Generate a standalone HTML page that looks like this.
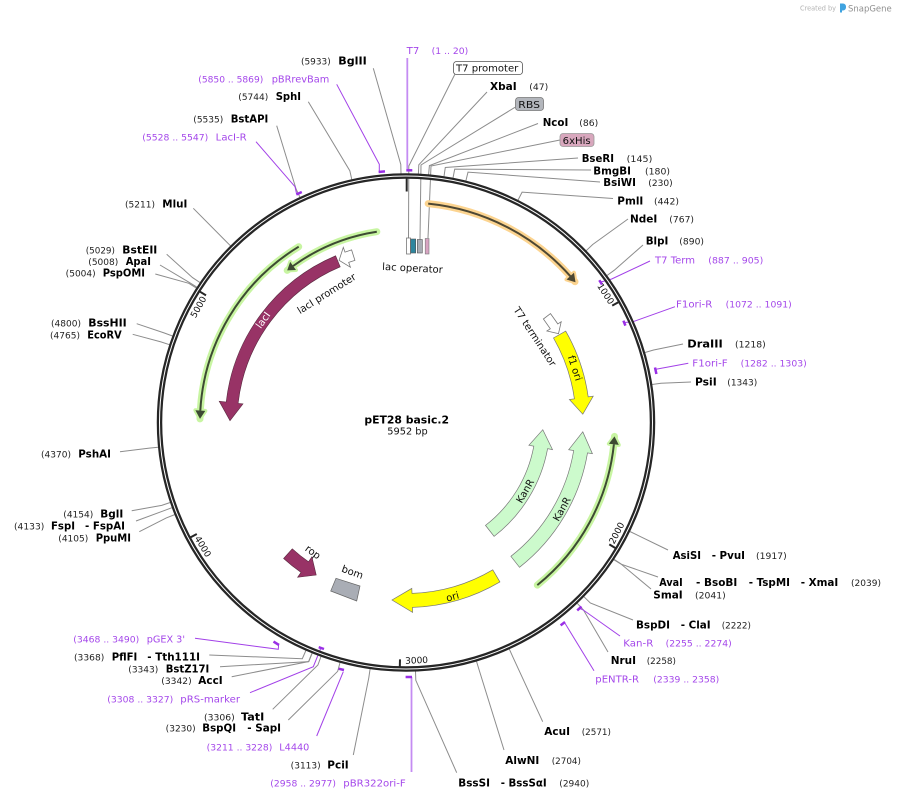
<!DOCTYPE html>
<html><head><meta charset="utf-8">
<style>
html,body{margin:0;padding:0;background:#fff;}
svg{display:block;}
text{font-family:"DejaVu Sans","Liberation Sans",sans-serif;}
.e{font-weight:bold;font-size:11px;fill:#000;}
.n{font-size:9px;fill:#222;}
.p{font-size:10px;fill:#a447ea;}
.pn{font-size:9px;fill:#a447ea;}
.f{font-size:10px;fill:#111;}
.t{font-size:9px;fill:#111;}
.g{fill:none;stroke:#8c8c8c;stroke-width:1;}
.pl{fill:none;stroke:#a240e8;stroke-width:1;}
.pm{stroke:#9a2fe6;stroke-width:2.5;fill:none;}
</style></head><body>
<svg width="897" height="799" viewBox="0 0 897 799" xmlns="http://www.w3.org/2000/svg">
<rect width="897" height="799" fill="#fff"/>

<!-- watermark -->
<text x="800" y="10.5" font-size="7" fill="#b3b3b3" textLength="36" lengthAdjust="spacingAndGlyphs">Created by</text>
<path d="M840,3.5 h3 a3,3 0 0 1 3,3 v1 a3,3 0 0 1 -3,3 h-1 v2 h-2 z" fill="#3fa3e0"/>
<text x="848" y="11.5" font-size="9" fill="#8f8f8f" textLength="43.7" lengthAdjust="spacingAndGlyphs">SnapGene</text>

<!-- leader lines enzymes -->
<g class="g">
<polyline points="487,92 418.8,164.8 418.4,173.8"/>
<polyline points="538,123.5 429.4,165.6 428.6,174.5"/>
<polyline points="578,158 445.3,167.5 444,176.4"/>
<polyline points="591,170 454.7,169.1 453,178"/>
<polyline points="600,182 468,172.1 465.9,180.8"/>
<polyline points="613,198.5 522.1,192.1 518,200.1"/>
<polyline points="628,219 592.7,244.5 586.2,250.7"/>
<polyline points="643,245 614.3,270.2 607,275.5"/>
<polyline points="683,344 653.6,350 645,352.5"/>
<polyline points="691,382 661,383.2 652.1,384.5"/>
<polyline points="668,550 638,535.4 629.9,531.5"/>
<polyline points="658,577 621.6,564.3 614,559.3"/>
<polyline points="651,589 621.6,564.5 613.8,559.7"/>
<polyline points="633,620 590.3,603 583.9,596.7"/>
<polyline points="608,652 583.4,609.9 577.2,603.3"/>
<polyline points="542.7,721.7 513,657.3 509.3,649.1"/>
<polyline points="504,750 479.1,669.9 476.5,661.3"/>
<polyline points="456.7,772.7 415.8,680.3 415.5,671.3"/>
<polyline points="353.3,755 368.8,677.8 370.1,668.9"/>
<polyline points="288.3,720 337.7,671.3 340,662.6"/>
<polyline points="272.7,709.3 317.9,665 321,656.5"/>
<polyline points="231.7,676.7 308.8,661.5 312.2,653.1"/>
<polyline points="220,666.7 308.6,661.6 312,653.2"/>
<polyline points="209.3,655 302.3,658.7 305.9,650.5"/>
<polyline points="139.3,531.7 166.3,517.9 174.7,514.6"/>
<polyline points="136,521 163.6,510.8 172,507.7"/>
<polyline points="131.7,510.7 161.7,505.4 170.2,502.5"/>
<polyline points="120,451.7 149.3,448.1 158.2,447.2"/>
<polyline points="132.7,334.3 160.9,341.9 169.5,344.7"/>
<polyline points="136.7,323.7 164,332.9 172.5,336"/>
<polyline points="155.3,274 188.8,283.3 196.4,288.1"/>
<polyline points="160,265 189.3,282.4 196.9,287.2"/>
<polyline points="166.7,254.3 192.5,277.6 200,282.6"/>
<polyline points="193.3,208.3 224.2,239.5 230.5,245.8"/>
<polyline points="276.7,125.7 296.1,189.1 299.9,197.2"/>
<polyline points="308.3,101.7 349.8,170.7 351.8,179.5"/>
<polyline points="373.3,68.3 400.8,164.5 401,173.5"/>
<!-- feature leader lines into inner boxes -->
<polyline points="455,74 408.8,166 408.5,238"/>
<polyline points="515,107.3 421,165 420,239.5"/>
<polyline points="560,140 431,166 428,238"/>
</g>

<!-- primer leader lines -->
<g class="pl">
<polyline points="336.7,84.3 379.3,164.3 379.3,171"/>
<polyline points="256,141.7 295,186.7 296.5,193.5"/>
<polyline points="650,261 611.7,279 601,282"/>
<polyline points="675,306.7 633,321.7 624.5,322.5"/>
<polyline points="688.3,363.3 656,369.3"/>
<polyline points="620,636 583.3,610 580,608.5"/>
<polyline points="594,670.7 565,623.3"/>
<polyline points="195,638.3 278.3,649.3 278.6,644.7"/>
<polyline points="250,692.7 313.3,666.7 320.5,649"/>
<polyline points="316.7,736 343.3,671.7"/>
</g>
<line x1="407.3" y1="58" x2="407.3" y2="169" stroke="#c48cf2" stroke-width="1.8"/>
<line x1="411.5" y1="677" x2="411.5" y2="772" stroke="#c48cf2" stroke-width="1.8"/>

<!-- ring -->
<circle cx="406" cy="422.5" r="246.5" fill="none" stroke="#262626" stroke-width="5.5"/>
<circle cx="406" cy="422.5" r="246.5" fill="none" stroke="#fff" stroke-width="1"/>

<!-- primer markers -->
<g class="pm">
<line x1="406.3" y1="170.3" x2="412.3" y2="170.3"/>
<line x1="378.6" y1="172" x2="385" y2="171.4"/>
<line x1="296.3" y1="194.5" x2="301.8" y2="192"/>
<line x1="599.3" y1="280.2" x2="602" y2="284.5"/>
<line x1="623.4" y1="320.7" x2="625.4" y2="325.6"/>
<line x1="655" y1="367.5" x2="656.4" y2="374"/>
<line x1="581.5" y1="606.6" x2="577.2" y2="610.4"/>
<line x1="565" y1="622" x2="560.6" y2="625.4"/>
<line x1="279" y1="645" x2="273.5" y2="641.6"/>
<line x1="324" y1="649" x2="318.7" y2="647.2"/>
<line x1="344" y1="670" x2="338.6" y2="668.7"/>
<line x1="405.6" y1="677" x2="412" y2="677"/>
</g>

<!-- ticks -->
<g stroke="#262626" stroke-width="2">
<line x1="406.7" y1="178" x2="406.7" y2="191.5"/>
<line x1="618.3" y1="302.2" x2="612.2" y2="305.6"/>
<line x1="615.3" y1="548" x2="609.3" y2="544.4"/>
<line x1="399.8" y1="667" x2="400" y2="659.4"/>
<line x1="190.7" y1="537.3" x2="196.8" y2="534"/>
<line x1="200" y1="291.7" x2="206" y2="295.4"/>
</g>
<text class="t" text-anchor="middle" transform="translate(603.1,295.5) rotate(57.2)">1000</text>
<text class="t" text-anchor="middle" transform="translate(619.4,534.5) rotate(-62.3)">2000</text>
<text class="t" text-anchor="middle" transform="translate(416.7,663.4) rotate(-2.5)">3000</text>
<text class="t" text-anchor="middle" transform="translate(200.3,548.1) rotate(58.6)">4000</text>
<text class="t" text-anchor="middle" transform="translate(201.1,308.5) rotate(-60.9)">5000</text>

<!-- orange feature -->
<path d="M428.2,203.6 A220,220 0 0 1 575,281.7" fill="none" stroke="#fcd490" stroke-width="7" stroke-linecap="round"/>
<polygon points="566.5,279.5 574,272.8 575.5,282.3" fill="#fcd490" stroke="#fcd490" stroke-width="4" stroke-linejoin="round"/>
<path d="M428.2,203.6 A220,220 0 0 1 570.8,276.7" fill="none" stroke="#4d4733" stroke-width="2"/>
<polygon points="566.5,279.5 574,272.8 575.5,282.3" fill="#4d4733"/>

<!-- green features -->
<g fill="#c8f5a2" stroke="#c8f5a2">
<path d="M298.7,246.7 A206,206 0 0 0 200,418.9" fill="none" stroke-width="7" stroke-linecap="round"/>
<polygon points="205.3,410.9 195.4,410.3 200,418.9" stroke-width="4" stroke-linejoin="round"/>
<path d="M376.8,231.7 A193,193 0 0 0 287.2,270.4" fill="none" stroke-width="7" stroke-linecap="round"/>
<polygon points="296,270 290.2,261.9 287.2,270.4" stroke-width="4" stroke-linejoin="round"/>
<path d="M537.3,585.1 A209,209 0 0 0 614.5,436.4" fill="none" stroke-width="7" stroke-linecap="round"/>
<polygon points="608.9,443.8 618.8,444.9 614.5,436.4" stroke-width="4" stroke-linejoin="round"/>
</g>
<g fill="#3d4a33" stroke="#3d4a33">
<path d="M298.7,246.7 A206,206 0 0 0 200.3,410.6" fill="none" stroke-width="2"/>
<polygon points="205.3,410.9 195.4,410.3 200,418.9" stroke="none"/>
<path d="M376.8,231.7 A193,193 0 0 0 293.1,266" fill="none" stroke-width="2"/>
<polygon points="296,270 290.2,261.9 287.2,270.4" stroke="none"/>
<path d="M537.3,585.1 A209,209 0 0 0 613.9,444.3" fill="none" stroke-width="2"/>
<polygon points="608.9,443.8 618.8,444.9 614.5,436.4" stroke="none"/>
</g>

<!-- lacI -->
<path d="M335.6,255.8 A181,181 0 0 0 226.2,402 L219.2,401.2 L230,420.7 L243,403.9 L238.1,403.4 A169,169 0 0 1 340.2,266.8 Z" fill="#983366" stroke="#5a2a40" stroke-width="0.6"/>
<text class="f" fill="#fff" style="fill:#fff" text-anchor="middle" transform="translate(263,320) rotate(-54.4)" dy="3.5">lacI</text>
<!-- lacI promoter -->
<path d="M351.6,249.9 L345,252.1 L343.3,247.4 L339.1,260.3 L350.4,267.2 L348.7,262.4 L354.9,260.4 Z" fill="#fff" stroke="#777" stroke-width="0.8"/>
<text class="f" text-anchor="middle" transform="translate(326.5,293.5) rotate(-32)" dy="3.5">lacI promoter</text>

<!-- lac operator boxes -->
<rect x="406.5" y="238" width="4" height="16" fill="#fff" stroke="#777" stroke-width="0.8"/>
<rect x="410.7" y="239" width="5" height="14" fill="#2e869e" stroke="#555" stroke-width="0.6"/>
<rect x="417.3" y="239.5" width="5" height="13.5" fill="#a8acb4" stroke="#555" stroke-width="0.6"/>
<rect x="425.2" y="238.5" width="3.8" height="15.5" fill="#d8a4c2" stroke="#777" stroke-width="0.6"/>
<text class="f" text-anchor="middle" transform="translate(412.5,268) rotate(3)" dy="3.5">lac operator</text>

<!-- T7 terminator -->
<path d="M550.5,313.6 L557.8,323.9 L561.2,321.7 L558.5,333.7 L546.9,331 L550.3,328.8 L543.4,319 Z" fill="#fff" stroke="#777" stroke-width="0.8"/>
<text class="f" text-anchor="middle" transform="translate(535,336.5) rotate(56.6)" dy="3.5">T7 terminator</text>

<!-- f1 ori -->
<path d="M565.7,331.1 A184,184 0 0 1 588.2,396.9 L593.2,396.2 L582.8,414.2 L569.4,399.5 L574.4,398.8 A170,170 0 0 0 553.5,338 Z" fill="#ffff00" stroke="#777" stroke-width="0.7"/>
<text class="f" text-anchor="middle" transform="translate(575,368) rotate(72)" dy="3.5">f1 ori</text>

<!-- KanR inner -->
<path d="M494.1,536.4 A144,144 0 0 0 547.6,448.7 L552.5,449.6 L542.8,429.7 L528.9,445.3 L533.8,446.2 A130,130 0 0 1 485.5,525.4 Z" fill="#ccfacc" stroke="#777" stroke-width="0.7"/>
<text class="f" text-anchor="middle" transform="translate(525,491) rotate(-60)" dy="3.5">KanR</text>
<!-- KanR outer -->
<path d="M519.5,567.3 A184,184 0 0 0 587.5,452.9 L592.4,453.7 L582.8,431.8 L568.7,449.7 L573.7,450.5 A170,170 0 0 1 510.9,556.3 Z" fill="#ccfacc" stroke="#777" stroke-width="0.7"/>
<text class="f" text-anchor="middle" transform="translate(561.7,509) rotate(-61)" dy="3.5">KanR</text>

<!-- ori -->
<path d="M499.9,581.9 A185,185 0 0 1 412.5,607.4 L412.6,612.4 L392,600 L411.8,588.4 L412,593.4 A171,171 0 0 0 492.8,569.8 Z" fill="#ffff00" stroke="#777" stroke-width="0.7"/>
<text class="f" text-anchor="middle" transform="translate(452.5,596.5) rotate(-15)" dy="3.5">ori</text>

<!-- rop -->
<path d="M283.6,558.5 A183,183 0 0 0 301,572.4 L297.6,577.3 L316.2,575 L311.9,556.8 L308.5,561.8 A170,170 0 0 1 292.3,548.8 Z" fill="#983366" stroke="#5a2a40" stroke-width="0.6"/>
<text class="f" text-anchor="middle" transform="translate(313,552) rotate(36)" dy="3.5">rop</text>

<!-- bom -->
<polygon points="336,578.3 360,586 356.7,601 330.7,591" fill="#a9adb5" stroke="#666" stroke-width="0.7"/>
<text class="f" text-anchor="middle" transform="translate(352.5,572) rotate(19.7)" dy="3.5">bom</text>

<!-- center title -->
<text x="406.7" y="423.3" text-anchor="middle" font-weight="bold" font-size="10.5" textLength="84.7" lengthAdjust="spacingAndGlyphs">pET28 basic.2</text>
<text x="407.5" y="434.5" text-anchor="middle" font-size="10" fill="#111" textLength="40.4" lengthAdjust="spacingAndGlyphs">5952 bp</text>

<!-- boxed feature labels -->
<rect x="453.5" y="61.5" width="69" height="13" rx="3" fill="#fff" stroke="#555" stroke-width="0.8"/>
<text class="f" x="456" y="71.5" textLength="62.3" lengthAdjust="spacingAndGlyphs">T7 promoter</text>
<rect x="515.5" y="97.5" width="28" height="13" rx="3" fill="#b3b6bc" stroke="#777" stroke-width="0.8"/>
<text class="f" x="518.3" y="108" textLength="21.7" lengthAdjust="spacingAndGlyphs">RBS</text>
<rect x="560" y="133.5" width="34" height="13" rx="3" fill="#d8a7bd" stroke="#999" stroke-width="0.8"/>
<text class="f" x="562.7" y="144" textLength="28" lengthAdjust="spacingAndGlyphs">6xHis</text>

<!-- right side labels -->
<text class="p" x="406.7" y="54" textLength="12.6" lengthAdjust="spacingAndGlyphs">T7</text>
<text class="pn" x="431.7" y="54" textLength="36.6" lengthAdjust="spacingAndGlyphs">(1 .. 20)</text>
<text class="e" x="490" y="90" textLength="26.7" lengthAdjust="spacingAndGlyphs">XbaI</text>
<text class="n" x="529.3" y="90" textLength="19" lengthAdjust="spacingAndGlyphs">(47)</text>
<text class="e" x="542.7" y="126" textLength="25.6" lengthAdjust="spacingAndGlyphs">NcoI</text>
<text class="n" x="579.3" y="126" textLength="19" lengthAdjust="spacingAndGlyphs">(86)</text>
<text class="e" x="581.7" y="162" textLength="32.3" lengthAdjust="spacingAndGlyphs">BseRI</text>
<text class="n" x="626.7" y="162" textLength="25.6" lengthAdjust="spacingAndGlyphs">(145)</text>
<text class="e" x="593.3" y="174.3" textLength="37.7" lengthAdjust="spacingAndGlyphs">BmgBI</text>
<text class="n" x="645" y="174.3" textLength="25" lengthAdjust="spacingAndGlyphs">(180)</text>
<text class="e" x="603.3" y="186" textLength="32.7" lengthAdjust="spacingAndGlyphs">BsiWI</text>
<text class="n" x="648.3" y="186" textLength="24.4" lengthAdjust="spacingAndGlyphs">(230)</text>
<text class="e" x="617.3" y="204.3" textLength="26" lengthAdjust="spacingAndGlyphs">PmlI</text>
<text class="n" x="654" y="204.3" textLength="25" lengthAdjust="spacingAndGlyphs">(442)</text>
<text class="e" x="630" y="222.3" textLength="27.3" lengthAdjust="spacingAndGlyphs">NdeI</text>
<text class="n" x="669.3" y="222.3" textLength="24.7" lengthAdjust="spacingAndGlyphs">(767)</text>
<text class="e" x="645.7" y="244.7" textLength="22.6" lengthAdjust="spacingAndGlyphs">BlpI</text>
<text class="n" x="679.3" y="244.7" textLength="24.7" lengthAdjust="spacingAndGlyphs">(890)</text>
<text class="p" x="655" y="263.3" textLength="40" lengthAdjust="spacingAndGlyphs">T7 Term</text>
<text class="pn" x="708.3" y="263.3" textLength="55" lengthAdjust="spacingAndGlyphs">(887 .. 905)</text>
<text class="p" x="676" y="307.3" textLength="36.3" lengthAdjust="spacingAndGlyphs">F1ori-R</text>
<text class="pn" x="725.7" y="307.3" textLength="66" lengthAdjust="spacingAndGlyphs">(1072 .. 1091)</text>
<text class="e" x="687.3" y="347.7" textLength="35.4" lengthAdjust="spacingAndGlyphs">DraIII</text>
<text class="n" x="735" y="347.7" textLength="30.7" lengthAdjust="spacingAndGlyphs">(1218)</text>
<text class="p" x="692.3" y="366.7" textLength="35.4" lengthAdjust="spacingAndGlyphs">F1ori-F</text>
<text class="pn" x="740.7" y="366.7" textLength="66" lengthAdjust="spacingAndGlyphs">(1282 .. 1303)</text>
<text class="e" x="695" y="385.3" textLength="21.7" lengthAdjust="spacingAndGlyphs">PsiI</text>
<text class="n" x="727.3" y="385.3" textLength="30" lengthAdjust="spacingAndGlyphs">(1343)</text>
<text class="e" x="672.7" y="559" textLength="28.3" lengthAdjust="spacingAndGlyphs">AsiSI</text>
<text class="e" x="711.7" y="559" textLength="33.3" lengthAdjust="spacingAndGlyphs">- PvuI</text>
<text class="n" x="756" y="559" textLength="30.7" lengthAdjust="spacingAndGlyphs">(1917)</text>
<text class="e" x="659.3" y="586" textLength="23.4" lengthAdjust="spacingAndGlyphs">AvaI</text>
<text class="e" x="696" y="586" textLength="41.3" lengthAdjust="spacingAndGlyphs">- BsoBI</text>
<text class="e" x="748.7" y="586" textLength="41.3" lengthAdjust="spacingAndGlyphs">- TspMI</text>
<text class="e" x="800.7" y="586" textLength="37.6" lengthAdjust="spacingAndGlyphs">- XmaI</text>
<text class="n" x="851" y="586" textLength="30" lengthAdjust="spacingAndGlyphs">(2039)</text>
<text class="e" x="653.3" y="598.3" textLength="29.4" lengthAdjust="spacingAndGlyphs">SmaI</text>
<text class="n" x="695" y="598.3" textLength="30.7" lengthAdjust="spacingAndGlyphs">(2041)</text>
<text class="e" x="636" y="628.3" textLength="34" lengthAdjust="spacingAndGlyphs">BspDI</text>
<text class="e" x="680.7" y="628.3" textLength="30" lengthAdjust="spacingAndGlyphs">- ClaI</text>
<text class="n" x="721.7" y="628.3" textLength="29.3" lengthAdjust="spacingAndGlyphs">(2222)</text>
<text class="p" x="623.3" y="646.7" textLength="30" lengthAdjust="spacingAndGlyphs">Kan-R</text>
<text class="pn" x="665.7" y="646.7" textLength="66" lengthAdjust="spacingAndGlyphs">(2255 .. 2274)</text>
<text class="e" x="610.7" y="664" textLength="25.3" lengthAdjust="spacingAndGlyphs">NruI</text>
<text class="n" x="646.7" y="664" textLength="29.3" lengthAdjust="spacingAndGlyphs">(2258)</text>
<text class="p" x="595.3" y="682.5" textLength="43.7" lengthAdjust="spacingAndGlyphs">pENTR-R</text>
<text class="pn" x="653.3" y="682.5" textLength="66" lengthAdjust="spacingAndGlyphs">(2339 .. 2358)</text>
<text class="e" x="544.3" y="735" textLength="25.7" lengthAdjust="spacingAndGlyphs">AcuI</text>
<text class="n" x="581.7" y="735" textLength="29.3" lengthAdjust="spacingAndGlyphs">(2571)</text>
<text class="e" x="505.3" y="764" textLength="34" lengthAdjust="spacingAndGlyphs">AlwNI</text>
<text class="n" x="551.7" y="764" textLength="29.3" lengthAdjust="spacingAndGlyphs">(2704)</text>
<text class="e" x="458.3" y="786.7" textLength="31.7" lengthAdjust="spacingAndGlyphs">BssSI</text>
<text class="e" x="500.7" y="786.7" textLength="46" lengthAdjust="spacingAndGlyphs">- BssSαI</text>
<text class="n" x="559.3" y="786.7" textLength="30" lengthAdjust="spacingAndGlyphs">(2940)</text>

<!-- left side labels -->
<text class="pn" x="270.3" y="786.7" textLength="65.7" lengthAdjust="spacingAndGlyphs">(2958 .. 2977)</text>
<text class="p" x="343.3" y="786.7" textLength="62.4" lengthAdjust="spacingAndGlyphs">pBR322ori-F</text>
<text class="n" x="290.7" y="768.3" textLength="30" lengthAdjust="spacingAndGlyphs">(3113)</text>
<text class="e" x="327.3" y="768.3" textLength="21.4" lengthAdjust="spacingAndGlyphs">PciI</text>
<text class="pn" x="206.7" y="750.7" textLength="65.6" lengthAdjust="spacingAndGlyphs">(3211 .. 3228)</text>
<text class="p" x="279.3" y="750.7" textLength="30" lengthAdjust="spacingAndGlyphs">L4440</text>
<text class="n" x="165.7" y="731.7" textLength="30" lengthAdjust="spacingAndGlyphs">(3230)</text>
<text class="e" x="202.3" y="731.7" textLength="33.7" lengthAdjust="spacingAndGlyphs">BspQI</text>
<text class="e" x="247.3" y="731.7" textLength="33.7" lengthAdjust="spacingAndGlyphs">- SapI</text>
<text class="n" x="204" y="720.5" textLength="30.7" lengthAdjust="spacingAndGlyphs">(3306)</text>
<text class="e" x="241" y="720.5" textLength="23.3" lengthAdjust="spacingAndGlyphs">TatI</text>
<text class="pn" x="107.3" y="702.5" textLength="66" lengthAdjust="spacingAndGlyphs">(3308 .. 3327)</text>
<text class="p" x="180.3" y="702.5" textLength="59.7" lengthAdjust="spacingAndGlyphs">pRS-marker</text>
<text class="n" x="161.3" y="684" textLength="30.4" lengthAdjust="spacingAndGlyphs">(3342)</text>
<text class="e" x="198.3" y="684" textLength="24.4" lengthAdjust="spacingAndGlyphs">AccI</text>
<text class="n" x="128.3" y="672.3" textLength="30" lengthAdjust="spacingAndGlyphs">(3343)</text>
<text class="e" x="165.7" y="672.3" textLength="43.6" lengthAdjust="spacingAndGlyphs">BstZ17I</text>
<text class="n" x="74" y="660.7" textLength="30.3" lengthAdjust="spacingAndGlyphs">(3368)</text>
<text class="e" x="111.7" y="660.7" textLength="25.6" lengthAdjust="spacingAndGlyphs">PflFI</text>
<text class="e" x="147.3" y="660.7" textLength="52.7" lengthAdjust="spacingAndGlyphs">- Tth111I</text>
<text class="pn" x="73.3" y="642.5" textLength="66" lengthAdjust="spacingAndGlyphs">(3468 .. 3490)</text>
<text class="p" x="146.7" y="642.5" textLength="38.3" lengthAdjust="spacingAndGlyphs">pGEX 3'</text>
<text class="n" x="58.3" y="541.7" textLength="30" lengthAdjust="spacingAndGlyphs">(4105)</text>
<text class="e" x="95.7" y="541.7" textLength="35.3" lengthAdjust="spacingAndGlyphs">PpuMI</text>
<text class="n" x="14" y="529.3" textLength="30.3" lengthAdjust="spacingAndGlyphs">(4133)</text>
<text class="e" x="51" y="529.3" textLength="24" lengthAdjust="spacingAndGlyphs">FspI</text>
<text class="e" x="85" y="529.3" textLength="40" lengthAdjust="spacingAndGlyphs">- FspAI</text>
<text class="n" x="63.3" y="517.3" textLength="30" lengthAdjust="spacingAndGlyphs">(4154)</text>
<text class="e" x="100.3" y="517.3" textLength="23" lengthAdjust="spacingAndGlyphs">BglI</text>
<text class="n" x="41" y="457.3" textLength="30" lengthAdjust="spacingAndGlyphs">(4370)</text>
<text class="e" x="78.3" y="457.3" textLength="32.7" lengthAdjust="spacingAndGlyphs">PshAI</text>
<text class="n" x="50" y="338.3" textLength="30" lengthAdjust="spacingAndGlyphs">(4765)</text>
<text class="e" x="87.3" y="338.3" textLength="34.4" lengthAdjust="spacingAndGlyphs">EcoRV</text>
<text class="n" x="51" y="326.7" textLength="30" lengthAdjust="spacingAndGlyphs">(4800)</text>
<text class="e" x="88.3" y="326.7" textLength="38.4" lengthAdjust="spacingAndGlyphs">BssHII</text>
<text class="n" x="65.7" y="276.3" textLength="30" lengthAdjust="spacingAndGlyphs">(5004)</text>
<text class="e" x="102.7" y="276.3" textLength="42.3" lengthAdjust="spacingAndGlyphs">PspOMI</text>
<text class="n" x="88.3" y="265" textLength="30" lengthAdjust="spacingAndGlyphs">(5008)</text>
<text class="e" x="125.7" y="265" textLength="25.3" lengthAdjust="spacingAndGlyphs">ApaI</text>
<text class="n" x="85.7" y="253.3" textLength="29.3" lengthAdjust="spacingAndGlyphs">(5029)</text>
<text class="e" x="122.3" y="253.3" textLength="35" lengthAdjust="spacingAndGlyphs">BstEII</text>
<text class="n" x="125" y="207.3" textLength="30" lengthAdjust="spacingAndGlyphs">(5211)</text>
<text class="e" x="162.3" y="207.3" textLength="25" lengthAdjust="spacingAndGlyphs">MluI</text>
<text class="pn" x="142.3" y="140.7" textLength="66" lengthAdjust="spacingAndGlyphs">(5528 .. 5547)</text>
<text class="p" x="215.7" y="140.7" textLength="31" lengthAdjust="spacingAndGlyphs">LacI-R</text>
<text class="n" x="193.3" y="122.3" textLength="30" lengthAdjust="spacingAndGlyphs">(5535)</text>
<text class="e" x="230.7" y="122.3" textLength="37.6" lengthAdjust="spacingAndGlyphs">BstAPI</text>
<text class="n" x="238.3" y="100" textLength="30" lengthAdjust="spacingAndGlyphs">(5744)</text>
<text class="e" x="275.7" y="100" textLength="25.3" lengthAdjust="spacingAndGlyphs">SphI</text>
<text class="pn" x="198.3" y="82.7" textLength="65" lengthAdjust="spacingAndGlyphs">(5850 .. 5869)</text>
<text class="p" x="271.7" y="82.7" textLength="57.6" lengthAdjust="spacingAndGlyphs">pBRrevBam</text>
<text class="n" x="301" y="64.7" textLength="29.7" lengthAdjust="spacingAndGlyphs">(5933)</text>
<text class="e" x="338.3" y="64.7" textLength="28.4" lengthAdjust="spacingAndGlyphs">BglII</text>
</svg>
</body></html>
